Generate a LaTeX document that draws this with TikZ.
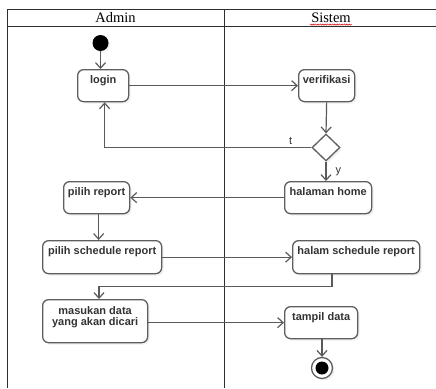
\documentclass[tikz,border=0pt]{standalone}
\usepackage{fontspec}
\setmainfont{Liberation Serif}
\newfontfamily\boxfont{Liberation Sans}
\usetikzlibrary{arrows.meta,shapes.geometric,shadows,decorations.pathmorphing}
\definecolor{boxgray}{HTML}{5E5E5E}
\definecolor{txtgray}{HTML}{333333}
\definecolor{linegray}{HTML}{5A5A5A}
\definecolor{tablegray}{HTML}{2E2E2E}
\tikzset{
  act/.style={draw=boxgray, line width=1.3pt, rounded corners=6pt, fill=white,
    anchor=north west, inner xsep=0pt, inner ysep=0pt,
    font=\boxfont\bfseries\fontsize{11}{11}\selectfont, text=txtgray,
    text height=13.5pt, text depth=18.5pt,
    drop shadow={shadow xshift=2pt, shadow yshift=-2pt, opacity=0.12}},
  flow/.style={draw=linegray, line width=1.2pt,
    -{Straight Barb[length=5.5pt,width=10pt]}},
  table/.style={draw=tablegray, line width=1pt},
  lane/.style={font=\fontsize{14.5}{14.5}\selectfont, text=black, inner sep=1pt},
  guard/.style={font=\boxfont\fontsize{11}{11}\selectfont, text=txtgray, inner sep=2pt},
}
\begin{document}
\begin{tikzpicture}[x=1pt, y=-1pt]
\useasboundingbox (0,0) rectangle (436,388);

% swimlane frame
\draw[table] (7,388) -- (7,9) -- (436,9);
\draw[table] (7,26) -- (436,26);
\draw[table] (224,9) -- (224,388);
\node[lane] (admin) at (115.5,17.5) {Admin};
\node[lane] (sistem) at (331,17.5) {Sistem};
\draw[red!85!black, line width=0.5pt, decorate,
  decoration={snake, amplitude=0.6pt, segment length=2.4pt}]
  ([yshift=-1pt]sistem.south west) -- ([yshift=-1pt]sistem.south east);

% start
\node[circle, fill=black, minimum size=16pt, inner sep=0pt,
  drop shadow={shadow xshift=1.5pt, shadow yshift=-1.5pt, opacity=0.12}] (start) at (100.5,43) {};

% activities
\node[act, minimum width=51pt] (login) at (77,69) {login};
\node[act, minimum width=56pt] (verif) at (298,69) {verifikasi};
\node[diamond, draw=boxgray, line width=1.3pt, fill=white, inner sep=0pt,
  minimum width=28pt, minimum height=27pt,
  drop shadow={shadow xshift=2pt, shadow yshift=-2pt, opacity=0.12}] (dec) at (326,147.5) {};
\node[act, minimum width=87pt] (home) at (284,181) {halaman home};
\node[act, minimum width=66pt] (preport) at (63,181) {pilih report};
\node[act, minimum width=119pt, text depth=19.5pt] (psched) at (42,240) {pilih schedule report};
\node[act, minimum width=127pt, text depth=19.5pt] (hsched) at (292,240) {halam schedule report};
\node[act, minimum width=105pt, text height=15pt, text depth=28pt] (masuk) at (42,299)
  {\renewcommand\arraystretch{0.95}\begin{tabular}[t]{@{}c@{}}masukan data\\yang akan dicari\end{tabular}};
\node[act, minimum width=73pt] (tampil) at (284,306) {tampil data};

% end
\node[circle, draw=boxgray, line width=1.3pt, fill=white, minimum size=21pt, inner sep=0pt,
  drop shadow={shadow xshift=2pt, shadow yshift=-2pt, opacity=0.12}] (end) at (322,368) {};
\node[circle, fill=black, minimum size=13pt, inner sep=0pt] (endin) at (end.center) {};

% bends
\coordinate (b1) at (332,286.5);
\coordinate (b2) at (99,286.5);

% flows
\draw[flow] (start.south) -- (start.south |- login.north);
\draw[flow] (login.east) -- (verif.west);
\draw[flow] (verif.south) -- (dec.north);
\draw[flow] (dec.west) -| ([xshift=1.5pt]login.south)
  node[guard, pos=0.05, above] (t) {t};
\draw[flow] (dec.south) -- (dec.south |- home.north)
  node[guard, midway, right, xshift=7pt] (y) {y};
\draw[flow] (home.west |- preport.east) -- (preport.east);
\draw[flow] ([xshift=2pt]preport.south) -- ([xshift=2pt]preport.south |- psched.north);
\draw[flow] (psched.east) -- (psched.east -| hsched.west);
\draw[flow] (hsched.south -| b1) -- (b1) -- (b2) -- (b2 |- masuk.north);
\draw[flow] (tampil.west -| masuk.east) -- (tampil.west);
\draw[flow] (tampil.south -| end.north) -- (end.north);
\end{tikzpicture}
\end{document}
